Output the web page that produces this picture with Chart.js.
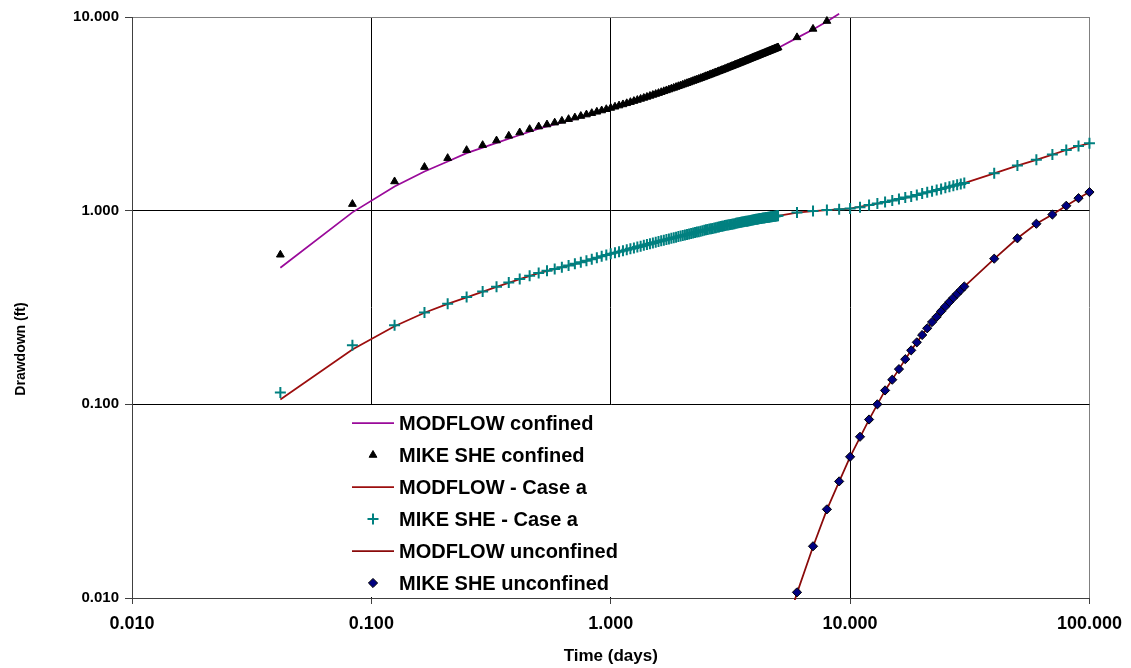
<!DOCTYPE html>
<html>
<head>
<meta charset="utf-8">
<title>Drawdown vs time</title>
<script src="https://cdn.jsdelivr.net/npm/chart.js@4/dist/chart.umd.min.js"></script>
<style>
  html, body { margin: 0; padding: 0; background: #ffffff; }
  #wrap { width: 1131px; height: 668px; position: relative; }
  canvas { display: block; }
</style>
</head>
<body>
<div id="wrap"><canvas id="chart" width="1131" height="668"></canvas></div>
<script>
// ---- Axis ticks -------------------------------------------------------------
const xTickValues = [0.01, 0.1, 1, 10, 100];
const xTickLabels = ['0.010', '0.100', '1.000', '10.000', '100.000'];
const yTickValues = [0.01, 0.1, 1, 10];
const yTickLabels = ['0.010', '0.100', '1.000', '10.000'];
const xTitle = 'Time (days)';
const yTitle = 'Drawdown (ft)';

// ---- MIKE SHE confined (output every hour to 5 days, then daily) -----------
const hoursConfinedSHE = [
  1, 2, 3, 4, 5, 6, 7, 8, 9, 10, 11, 12, 13, 14, 15, 16, 17, 18, 19, 20, 21, 22, 23, 24,
  25, 26, 27, 28, 29, 30, 31, 32, 33, 34, 35, 36, 37, 38, 39, 40, 41, 42, 43, 44, 45, 46, 47, 48,
  49, 50, 51, 52, 53, 54, 55, 56, 57, 58, 59, 60, 61, 62, 63, 64, 65, 66, 67, 68, 69, 70, 71, 72,
  73, 74, 75, 76, 77, 78, 79, 80, 81, 82, 83, 84, 85, 86, 87, 88, 89, 90, 91, 92, 93, 94, 95, 96,
  97, 98, 99, 100, 101, 102, 103, 104, 105, 106, 107, 108, 109, 110, 111, 112, 113, 114, 115, 116, 117, 118, 119, 120,
  144, 168, 192
];
const drawdownConfinedSHE = [
  0.592, 1.081, 1.415, 1.679, 1.867, 2.053, 2.179, 2.301, 2.434, 2.532, 2.635, 2.718,
  2.784, 2.847, 2.908, 2.967, 3.024, 3.080, 3.134, 3.187, 3.239, 3.290, 3.340, 3.390,
  3.439, 3.488, 3.536, 3.584, 3.632, 3.679, 3.726, 3.773, 3.819, 3.865, 3.910, 3.956,
  4.000, 4.045, 4.089, 4.133, 4.176, 4.219, 4.262, 4.304, 4.346, 4.388, 4.429, 4.470,
  4.511, 4.551, 4.591, 4.631, 4.671, 4.711, 4.750, 4.789, 4.828, 4.867, 4.906, 4.945,
  4.983, 5.021, 5.059, 5.097, 5.135, 5.172, 5.209, 5.246, 5.283, 5.320, 5.357, 5.394,
  5.430, 5.466, 5.502, 5.538, 5.574, 5.610, 5.645, 5.680, 5.715, 5.750, 5.785, 5.820,
  5.854, 5.888, 5.922, 5.956, 5.990, 6.024, 6.057, 6.090, 6.123, 6.156, 6.189, 6.222,
  6.254, 6.286, 6.318, 6.350, 6.382, 6.414, 6.445, 6.476, 6.507, 6.538, 6.569, 6.600,
  6.630, 6.660, 6.690, 6.720, 6.750, 6.780, 6.810, 6.840, 6.870, 6.900, 6.930, 6.960,
  7.85, 8.68, 9.53
];

// ---- MODFLOW confined ---------------------------------------------------------
const hoursConfinedMF = [1, 2, 3, 4, 5, 6, 8, 10, 12, 18, 24, 36, 48, 60, 72, 96, 120, 144, 168, 192, 216];
const drawdownConfinedMF = [0.507, 0.98, 1.333, 1.593, 1.794, 1.982, 2.24, 2.46, 2.65, 3.03, 3.35, 3.92,
  4.43, 4.90, 5.35, 6.18, 6.92, 7.80, 8.62, 9.47, 10.4];

// ---- MIKE SHE - Case a --------------------------------------------------------
const hoursCaseASHE = [
  1, 2, 3, 4, 5, 6, 7, 8, 9, 10, 11, 12, 13, 14, 15, 16, 17, 18, 19, 20, 21, 22, 23, 24,
  25, 26, 27, 28, 29, 30, 31, 32, 33, 34, 35, 36, 37, 38, 39, 40, 41, 42, 43, 44, 45, 46, 47, 48,
  49, 50, 51, 52, 53, 54, 55, 56, 57, 58, 59, 60, 61, 62, 63, 64, 65, 66, 67, 68, 69, 70, 71, 72,
  73, 74, 75, 76, 77, 78, 79, 80, 81, 82, 83, 84, 85, 86, 87, 88, 89, 90, 91, 92, 93, 94, 95, 96,
  97, 98, 99, 100, 101, 102, 103, 104, 105, 106, 107, 108, 109, 110, 111, 112, 113, 114, 115, 116, 117, 118, 119, 120,
  144, 168, 192, 216, 240, 264, 288, 312, 336, 360, 384, 408, 432, 456, 480, 504, 528, 552, 576, 600, 624, 648, 672, 696, 720,
  960, 1200, 1440, 1680, 1920, 2160, 2400
];
const drawdownCaseASHE = [
  0.115, 0.202, 0.256, 0.298, 0.331, 0.358, 0.383, 0.405, 0.426, 0.444, 0.461, 0.477,
  0.489, 0.500, 0.511, 0.5215, 0.532, 0.542, 0.552, 0.562, 0.5715, 0.581, 0.590, 0.599,
  0.6065, 0.614, 0.621, 0.628, 0.635, 0.642, 0.649, 0.656, 0.6625, 0.669, 0.675, 0.681,
  0.687, 0.693, 0.6985, 0.704, 0.7095, 0.715, 0.720, 0.725, 0.730, 0.735, 0.740, 0.745,
  0.749, 0.7535, 0.758, 0.762, 0.766, 0.7705, 0.775, 0.779, 0.7835, 0.788, 0.792, 0.796,
  0.7995, 0.803, 0.8065, 0.810, 0.8135, 0.817, 0.8205, 0.824, 0.8275, 0.831, 0.8345, 0.838,
  0.841, 0.8435, 0.846, 0.849, 0.852, 0.8545, 0.857, 0.860, 0.863, 0.8655, 0.868, 0.871,
  0.8735, 0.876, 0.878, 0.8805, 0.883, 0.8855, 0.888, 0.890, 0.8925, 0.895, 0.8975, 0.900,
  0.902, 0.904, 0.906, 0.908, 0.910, 0.9115, 0.9135, 0.9155, 0.9175, 0.919, 0.921, 0.923,
  0.9245, 0.926, 0.9275, 0.929, 0.931, 0.9325, 0.934, 0.9355, 0.937, 0.9385, 0.940, 0.942,
  0.977, 0.996, 1.008, 1.017, 1.025, 1.041, 1.07, 1.09, 1.11, 1.13, 1.15, 1.17, 1.185,
  1.205, 1.225, 1.245, 1.26, 1.28, 1.295, 1.315, 1.33, 1.345, 1.36, 1.375, 1.39,
  1.56, 1.71, 1.83, 1.95, 2.06, 2.16, 2.23
];

// ---- MODFLOW - Case a -----------------------------------------------------------
const hoursCaseAMF = [1, 2, 3, 4, 5, 6, 8, 10, 12, 18, 24, 36, 48, 60, 72, 84, 96, 108, 120,
  144, 168, 192, 216, 240, 288, 336, 384, 432, 480, 528, 576, 624, 672, 720,
  960, 1200, 1440, 1680, 1920, 2160, 2400];
const drawdownCaseAMF = [0.106, 0.192, 0.253, 0.297, 0.330, 0.357, 0.404, 0.443, 0.476,
  0.541, 0.598, 0.680, 0.744, 0.795, 0.837, 0.870, 0.899, 0.922, 0.941,
  0.976, 0.995, 1.007, 1.016, 1.024, 1.068, 1.108, 1.148, 1.183, 1.223, 1.258, 1.293, 1.328, 1.358, 1.388,
  1.558, 1.708, 1.828, 1.948, 2.058, 2.158, 2.228];

// ---- MIKE SHE unconfined (days) -------------------------------------------------
const daysUnconfinedSHE = [6, 7, 8, 9, 10, 11, 12, 13, 14, 15, 16, 17, 18, 19, 20, 21, 22, 23, 24, 25, 26, 27, 28, 29, 30,
  40, 50, 60, 70, 80, 90, 100];
const drawdownUnconfinedSHE = [0.0107, 0.0185, 0.0287, 0.040, 0.0536, 0.068, 0.0835, 0.100, 0.118, 0.134,
  0.152, 0.171, 0.190, 0.209, 0.228, 0.247, 0.266, 0.283, 0.302, 0.320, 0.338, 0.355, 0.372, 0.389, 0.406,
  0.565, 0.72, 0.856, 0.955, 1.06, 1.16, 1.247];

// ---- MODFLOW unconfined (days) --------------------------------------------------
const daysUnconfinedMF = [5, 6, 7, 8, 9, 10, 12, 14, 16, 18, 20, 22, 24, 26, 28, 30, 40, 50, 60, 70, 80, 90, 100];
const drawdownUnconfinedMF = [0.0052, 0.0106, 0.0184, 0.0286, 0.0399, 0.0535, 0.0834, 0.118, 0.152, 0.190,
  0.228, 0.266, 0.302, 0.338, 0.372, 0.405, 0.564, 0.72, 0.855, 0.955, 1.06, 1.16, 1.247];

// ---- helpers ----------------------------------------------------------------------
const fromHours = (hours, values) => hours.map((h, i) => ({ x: h / 24, y: values[i] }));
const fromDays = (days, values) => days.map((d, i) => ({ x: d, y: values[i] }));

const AXIS_DARK = '#404040';
const FRAME_GREY = '#808080';
const FONT = '"Liberation Sans", Arial, Helvetica, sans-serif';

const lineStyle = (color) => ({
  showLine: true, borderColor: color, backgroundColor: color, borderWidth: 1.75,
  pointRadius: 0, pointHoverRadius: 0, tension: 0, order: 2
});

const datasets = [
  Object.assign({ label: 'MODFLOW confined', data: fromHours(hoursConfinedMF, drawdownConfinedMF),
    clip: { left: 0, top: 6, right: 0, bottom: 0 } }, lineStyle('#9A0A9A')),
  { label: 'MIKE SHE confined', data: fromHours(hoursConfinedSHE, drawdownConfinedSHE),
    showLine: false, pointStyle: 'triangle', pointRadius: 4.5, borderWidth: 1,
    backgroundColor: '#000000', borderColor: '#000000', clip: false, order: 1 },
  Object.assign({ label: 'MODFLOW - Case a', data: fromHours(hoursCaseAMF, drawdownCaseAMF),
    clip: { left: 0, top: 0, right: 0, bottom: 0 } }, lineStyle('#9C0E0E')),
  { label: 'MIKE SHE - Case a', data: fromHours(hoursCaseASHE, drawdownCaseASHE),
    showLine: false, pointStyle: 'cross', pointRadius: 5.5, borderWidth: 2,
    backgroundColor: '#008080', borderColor: '#008080', clip: false, order: 1 },
  Object.assign({ label: 'MODFLOW unconfined', data: fromDays(daysUnconfinedMF, drawdownUnconfinedMF),
    clip: { left: 0, top: 0, right: 0, bottom: 2 } }, lineStyle('#8A0A0A')),
  { label: 'MIKE SHE unconfined', data: fromDays(daysUnconfinedSHE, drawdownUnconfinedSHE),
    showLine: false, pointStyle: 'rectRot', pointRadius: 4.6, borderWidth: 1,
    backgroundColor: '#000080', borderColor: '#000000', clip: false, order: 1 }
];

// Legend drawn inside the plot on a white panel, one row per dataset
const insetLegend = {
  id: 'insetLegend',
  afterDatasetsDraw(chart) {
    const ctx = chart.ctx;
    const box = { left: 330, top: 405, right: 642, bottom: 597 };
    const rowTop = 423, rowGap = 32;
    const sampleLeft = 352, sampleRight = 394, textLeft = 399;
    ctx.save();
    ctx.fillStyle = '#ffffff';
    ctx.fillRect(box.left, box.top, box.right - box.left, box.bottom - box.top);
    chart.data.datasets.forEach((ds, i) => {
      const y = rowTop + i * rowGap;
      if (ds.showLine) {
        ctx.strokeStyle = ds.borderColor;
        ctx.lineWidth = ds.borderWidth;
        ctx.beginPath();
        ctx.moveTo(sampleLeft, y);
        ctx.lineTo(sampleRight, y);
        ctx.stroke();
      } else {
        ctx.fillStyle = ds.backgroundColor;
        ctx.strokeStyle = ds.borderColor;
        ctx.lineWidth = ds.borderWidth;
        Chart.helpers.drawPoint(ctx, { pointStyle: ds.pointStyle, radius: ds.pointRadius,
          borderWidth: ds.borderWidth, rotation: 0 }, (sampleLeft + sampleRight) / 2, y);
      }
      ctx.fillStyle = '#000000';
      ctx.font = 'bold 20px ' + FONT;
      ctx.textAlign = 'left';
      ctx.textBaseline = 'middle';
      ctx.fillText(ds.label, textLeft, y + 1);
    });
    ctx.restore();
  }
};

// Vertical axis title, placed beside the lower half of the value axis
const valueAxisTitle = {
  id: 'valueAxisTitle',
  afterDraw(chart) {
    const ctx = chart.ctx;
    ctx.save();
    ctx.translate(21, 349);
    ctx.rotate(-Math.PI / 2);
    ctx.fillStyle = '#000000';
    ctx.font = 'bold 14px ' + FONT;
    ctx.textAlign = 'center';
    ctx.textBaseline = 'middle';
    ctx.fillText(yTitle, 0, 0);
    ctx.restore();
  }
};

const edgeColor = (edgeValue, startValue) => (ctx) => {
  const v = ctx.tick ? ctx.tick.value : null;
  if (v === edgeValue) return FRAME_GREY;
  if (v === startValue) return AXIS_DARK;
  return '#000000';
};

new Chart(document.getElementById('chart'), {
  type: 'scatter',
  data: { datasets },
  plugins: [insetLegend, valueAxisTitle],
  options: {
    responsive: false,
    animation: false,
    devicePixelRatio: 1,
    layout: { padding: { left: 0, top: 17, right: 41, bottom: 0 } },
    plugins: { legend: { display: false }, tooltip: { enabled: false } },
    scales: {
      x: {
        type: 'logarithmic', position: 'bottom', min: 0.01, max: 100,
        afterBuildTicks: (scale) => { scale.ticks = xTickValues.map(v => ({ value: v })); },
        afterFit: (scale) => { scale.height = 70; },
        ticks: {
          autoSkip: false, maxRotation: 0, minRotation: 0, padding: 9, color: '#000000',
          font: { family: FONT, size: 18, weight: 'bold' },
          callback: (value, index) => xTickLabels[index]
        },
        grid: { color: edgeColor(100, 0.01), lineWidth: 1, drawTicks: true, tickLength: 6, tickColor: AXIS_DARK },
        border: { display: true, color: AXIS_DARK, width: 1 },
        title: { display: true, text: xTitle, color: '#000000',
          font: { family: FONT, size: 17, weight: 'bold' }, padding: { top: 0, bottom: 1 } }
      },
      y: {
        type: 'logarithmic', position: 'left', min: 0.01, max: 10,
        afterBuildTicks: (scale) => { scale.ticks = yTickValues.map(v => ({ value: v })); },
        afterFit: (scale) => { scale.width = 132; },
        ticks: {
          autoSkip: false, padding: 6, color: '#000000',
          font: { family: FONT, size: 15, weight: 'bold' },
          callback: (value, index) => yTickLabels[index]
        },
        grid: { color: edgeColor(10, 0.01), lineWidth: 1, drawTicks: true, tickLength: 7, tickColor: AXIS_DARK },
        border: { display: true, color: AXIS_DARK, width: 1 },
        title: { display: false, text: yTitle }
      }
    }
  }
});
</script>
</body>
</html>
